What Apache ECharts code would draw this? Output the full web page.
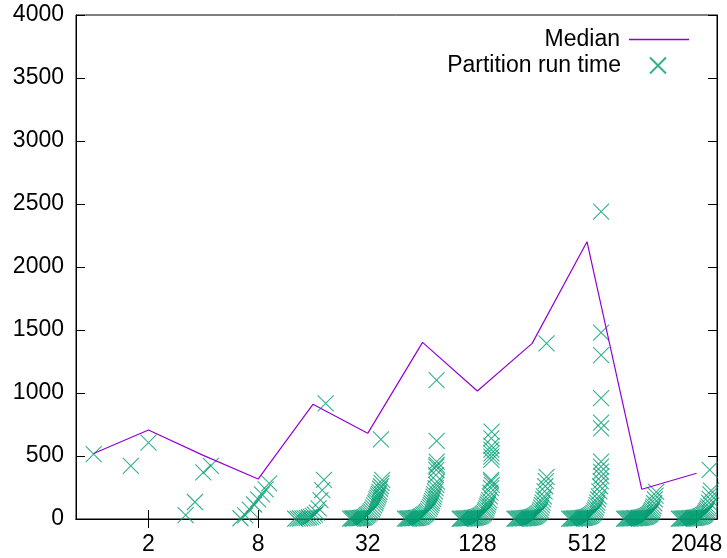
<!DOCTYPE html>
<html>
<head>
<meta charset="utf-8">
<script src="https://cdn.jsdelivr.net/npm/echarts@6/dist/echarts.min.js"></script>
<style>
html, body { margin: 0; padding: 0; background: #fff; }
#main { width: 727px; height: 558px; }
</style>
</head>
<body>
<div id="main"></div>
<script>
// median of partition run time per number of partitions
var medianParts = [1, 2, 4, 8, 16, 32, 64, 128, 256, 512, 1024, 2048];
var medianMs = [520, 706, 505, 317, 910, 680, 1402, 1016, 1394, 2201, 236, 363];

// partition run times, [x position, ms], sorted inside each group
var runs1 = [[1, 515]];
var runs2 = [[1.6, 421], [2.0, 606]];
var runs4 = [[3.2, 30], [3.6, 135], [4.0, 370], [4.4, 421]];
var runs8 = [[6.4, 6], [6.8, 28], [7.2, 75], [7.6, 115], [8.0, 155], [8.4, 195], [8.8, 236], [9.2, 283]];
var runs16 = [[12.8, 2], [13.2, 3], [13.6, 4], [14.0, 5], [14.4, 7], [14.8, 9], [15.2, 12], [15.6, 17],
  [16.0, 24], [16.4, 35], [16.8, 50], [17.2, 85], [17.6, 150], [18.0, 230], [18.4, 310], [18.8, 918]];
var runs32 = [[25.6, 3], [26.1, 4], [26.6, 4], [27.0, 5], [27.5, 5], [28.0, 6], [28.5, 6], [29.0, 7],
  [29.4, 8], [29.9, 10], [30.4, 12], [30.9, 17], [31.4, 25], [31.8, 32], [32.3, 40], [32.8, 50],
  [33.3, 60], [33.8, 75], [34.2, 90], [34.7, 108], [35.2, 125], [35.5, 140], [35.8, 155], [36.2, 170],
  [36.5, 185], [36.8, 200], [37.1, 215], [37.4, 240], [37.8, 260], [38.1, 285], [38.4, 310], [37.8, 632]];
var runs64 = [[51.2, 3], [52.2, 3], [53.1, 4], [54.1, 4], [55.0, 5], [56.0, 5], [57.0, 6], [57.9, 7],
  [58.9, 8], [59.8, 9], [60.8, 11], [61.8, 14], [62.7, 18], [63.7, 23], [64.6, 30], [65.6, 37],
  [66.6, 45], [67.5, 55], [68.5, 65], [69.4, 80], [70.4, 95], [71.0, 110], [71.7, 125], [72.3, 142],
  [73.0, 160], [73.6, 178], [74.2, 195], [74.9, 220], [75.5, 245], [76.2, 270], [76.8, 296],
  [75.8, 349], [76.2, 389], [76.2, 415], [76.5, 429], [76.5, 455], [76.5, 620], [76.4, 1103]];
var runs128 = [[102.4, 2], [104.3, 3], [106.2, 3], [108.2, 4], [110.1, 4], [112.0, 5], [113.9, 5], [115.8, 6],
  [117.8, 7], [119.7, 8], [121.6, 9], [123.5, 10], [125.4, 12], [127.4, 14], [129.3, 17], [131.2, 21],
  [133.1, 25], [135.0, 31], [137.0, 38], [138.9, 47], [140.8, 58], [142.1, 70], [143.4, 85], [144.6, 100],
  [145.9, 115], [147.2, 132], [148.5, 150], [149.8, 180], [151.0, 210], [152.3, 245], [153.6, 270],
  [152.3, 296], [152.3, 310], [152.8, 470], [152.8, 495], [153.0, 521], [152.8, 550], [153.0, 580],
  [152.8, 640], [153.3, 693]];
var runs256 = [[204.8, 2], [208.6, 3], [212.5, 3], [216.3, 4], [220.2, 4], [224.0, 5], [227.8, 5], [231.7, 6],
  [235.5, 7], [239.4, 8], [243.2, 9], [247.0, 10], [250.9, 12], [254.7, 14], [258.6, 17], [262.4, 21],
  [266.2, 25], [270.1, 31], [273.9, 38], [277.8, 47], [281.6, 58], [284.2, 72], [286.7, 90], [289.3, 110],
  [291.8, 130], [294.4, 155], [297.0, 180], [299.5, 220], [302.1, 260], [304.6, 300], [307.2, 335],
  [307.0, 1394]];
var runs512 = [[409.6, 2], [417.3, 3], [425.0, 3], [432.6, 4], [440.3, 4], [448.0, 5], [455.7, 5], [463.4, 6],
  [471.0, 7], [478.7, 8], [486.4, 9], [494.1, 10], [501.8, 12], [509.4, 14], [517.1, 17], [524.8, 21],
  [532.5, 25], [540.2, 31], [547.8, 38], [555.5, 48], [563.2, 60], [568.3, 74], [573.4, 90], [578.6, 110],
  [583.7, 130], [588.8, 155], [593.9, 180], [599.0, 220], [604.2, 260], [609.3, 300], [614.4, 340],
  [611, 376], [611, 415], [612, 455], [612, 720], [612, 765], [612, 960], [612, 1300], [612, 1480], [612, 2439]];
var runs1024 = [[819, 2], [835, 3], [850, 3], [865, 4], [881, 4], [896, 5], [911, 5], [927, 6],
  [942, 6], [957, 7], [973, 8], [988, 9], [1004, 10], [1019, 11], [1034, 13], [1050, 15],
  [1065, 18], [1080, 21], [1096, 25], [1111, 30], [1126, 35], [1137, 42], [1147, 50], [1157, 60],
  [1167, 70], [1178, 85], [1188, 100], [1198, 125], [1208, 155], [1219, 185], [1229, 215]];
var runs2048 = [[1638, 2], [1669, 3], [1700, 3], [1731, 4], [1761, 4], [1792, 5], [1823, 5], [1853, 6],
  [1884, 6], [1915, 7], [1946, 8], [1976, 9], [2007, 10], [2038, 11], [2068, 13], [2099, 15],
  [2130, 18], [2161, 21], [2191, 25], [2222, 30], [2253, 35], [2273, 42], [2294, 50], [2314, 60],
  [2335, 70], [2355, 85], [2376, 100], [2396, 130], [2417, 160], [2437, 195], [2458, 225], [2417, 389]];

var xTicks = [2, 8, 32, 128, 512, 2048];
var font = 'Liberation Sans';
var fontSize = 23;

var chart = echarts.init(document.getElementById('main'));

var medianData = medianParts.map(function (n, i) { return [n, medianMs[i]]; });
var runData = [].concat(runs1, runs2, runs4, runs8, runs16, runs32, runs64,
  runs128, runs256, runs512, runs1024, runs2048);

var tickStyle = { inside: true, length: 9, lineStyle: { color: '#000', width: 1 } };

var option = {
  animation: false,
  grid: { left: 76, right: 10, top: 15, bottom: 39, show: true, borderColor: '#000', borderWidth: 1 },
  legend: [
    {
      data: [{ name: 'Median', icon: 'rect' }], right: 33, top: 23, orient: 'vertical', align: 'right',
      itemWidth: 60, itemHeight: 1.5, selectedMode: false,
      textStyle: { fontFamily: font, fontSize: fontSize, color: '#000', padding: [0, 4, 0, 0] }
    },
    {
      data: ['Partition run time'], right: 55, top: 49, orient: 'vertical', align: 'right',
      itemWidth: 16, itemHeight: 16, selectedMode: false,
      textStyle: { fontFamily: font, fontSize: fontSize, color: '#000', padding: [0, 24, 0, 0] }
    }
  ],
  xAxis: [
    {
      type: 'log', logBase: 2, min: 0.8, max: 2650, position: 'bottom',
      axisLine: { lineStyle: { color: '#000' } },
      axisTick: Object.assign({ customValues: xTicks }, tickStyle),
      axisLabel: {
        customValues: xTicks, color: '#000', fontFamily: font, fontSize: fontSize, margin: 14,
        formatter: function (v) { return String(Math.round(v)); }
      },
      splitLine: { show: false }, minorTick: { show: false }
    },
    {
      type: 'log', logBase: 2, min: 0.8, max: 2650, position: 'top',
      axisLine: { lineStyle: { color: '#000' } },
      axisTick: Object.assign({ customValues: xTicks }, tickStyle),
      axisLabel: { show: false },
      splitLine: { show: false }, minorTick: { show: false }
    }
  ],
  yAxis: [
    {
      type: 'value', min: 0, max: 4000, interval: 500, position: 'left',
      axisLine: { show: true, lineStyle: { color: '#000' } },
      axisTick: tickStyle,
      axisLabel: {
        color: '#000', fontFamily: font, fontSize: fontSize, margin: 12,
        formatter: function (v) { return String(v); }
      },
      splitLine: { show: false }
    },
    {
      type: 'value', min: 0, max: 4000, interval: 500, position: 'right',
      axisLine: { show: true, lineStyle: { color: '#000' } },
      axisTick: tickStyle,
      axisLabel: { show: false },
      splitLine: { show: false }
    }
  ],
  series: [
    {
      name: 'Median', type: 'line', data: medianData,
      symbol: 'none', lineStyle: { color: '#9400d3', width: 1.2 },
      itemStyle: { color: '#9400d3' },
      emphasis: { disabled: true }
    },
    {
      name: 'Partition run time', type: 'scatter', data: runData,
      symbol: 'path://M0,0L10,10M10,0L0,10', symbolSize: 16,
      itemStyle: { color: 'rgba(0,0,0,0)', borderColor: '#009e73', borderWidth: 1.1 },
      emphasis: { disabled: true }
    }
  ]
};
chart.setOption(option);
</script>
</body>
</html>
